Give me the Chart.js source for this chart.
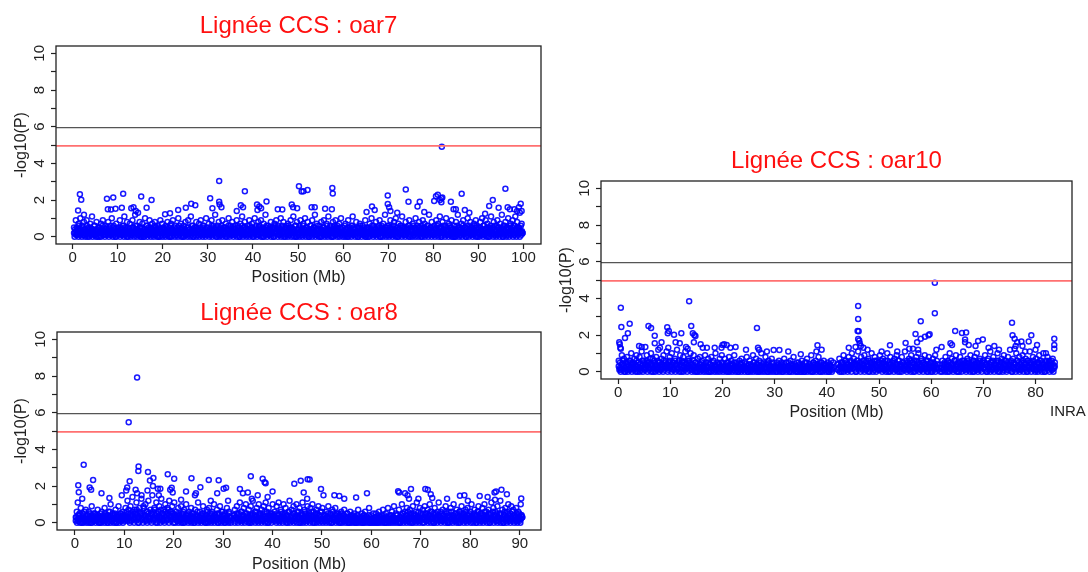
<!DOCTYPE html>
<html>
<head>
<meta charset="utf-8">
<script src="https://cdn.jsdelivr.net/npm/chart.js@4.4.1/dist/chart.umd.min.js"></script>
<style>
  body { margin: 0; background: #fff; width: 1088px; height: 572px; overflow: hidden; position: relative; }
  .panel { position: absolute; }
  #inra { position: absolute; left: 1050px; top: 402px; font: 15px "Liberation Sans", Arial, sans-serif; color: #222; }
</style>
</head>
<body>
<div class="panel" style="left:0;top:0;width:560px;height:290px"><canvas id="oar7"></canvas></div>
<div class="panel" style="left:0;top:290px;width:560px;height:290px"><canvas id="oar8"></canvas></div>
<div class="panel" style="left:545px;top:135px;width:543px;height:290px"><canvas id="oar10"></canvas></div>
<div id="inra">INRA</div>
<script>
// thresholds (-log10 P)
const lineBlack = 5.95
const lineRed = 4.95
const yTicks = [0, 1, 2, 3, 4, 5, 6, 7, 8, 9, 10]

// ---- oar7 ----
const oar7Ticks = [0, 10, 20, 30, 40, 50, 60, 70, 80, 90, 100]
const oar7Range = [0.3, 99.8]   // first / last marker (Mb)
// background markers, evenly spread along the chromosome
const oar7Band = [
  0.5,0.2,0.9,0.1,0.4,0.7,0.3,1.0,0.2,0.6, 0.1,0.8,0.4,0.3,0.9,0.0,0.5,0.2,0.7,0.3, 1.1,0.4,0.1,0.6,0.3,0.8,0.2,0.5,0.0,0.4, 0.7,0.2,0.9,0.3,0.1,0.6,0.4,0.2,0.8,0.5, 0.1,0.3,1.0,0.2,0.6,0.4,0.0,0.7,0.3,0.5,
  0.2,0.9,0.4,0.1,0.6,0.3,1.1,0.5,0.2,0.8, 0.0,0.4,0.7,0.3,0.1,0.9,0.5,0.2,1.2,0.4, 0.6,0.1,0.3,0.8,0.5,0.2,0.7,0.0,0.4,1.0, 0.3,0.6,0.1,0.5,0.9,0.2,0.4,0.7,0.3,0.1, 0.8,0.5,0.2,0.6,0.0,0.4,0.9,0.3,0.7,0.2,
  0.4,0.1,0.6,0.3,0.8,0.2,0.5,0.0,0.7,0.4, 0.9,0.2,0.3,0.6,0.1,0.5,1.0,0.3,0.2,0.7, 0.4,0.0,0.6,0.3,0.8,0.1,0.5,0.9,0.2,0.4, 1.1,0.3,0.6,0.0,0.5,0.2,0.8,0.4,0.1,0.7, 0.3,0.9,0.2,0.5,0.6,0.1,0.4,1.0,0.3,0.2,
  0.7,0.3,0.1,0.9,0.4,0.6,0.2,1.2,0.5,0.0, 0.3,0.8,0.4,0.1,0.6,0.9,0.2,0.5,0.3,0.7, 0.0,0.4,1.0,0.2,0.6,0.3,0.8,0.1,0.5,0.4, 0.2,0.9,0.6,0.3,0.0,0.7,0.4,1.1,0.2,0.5, 0.8,0.1,0.3,0.6,0.4,0.9,0.2,0.5,0.7,0.1,
  0.4,1.0,0.3,0.6,0.1,0.8,0.5,0.2,0.9,0.4, 0.0,0.7,0.3,1.2,0.5,0.2,0.6,0.1,0.4,0.8, 0.3,0.5,0.0,0.7,0.2,0.9,0.4,0.6,0.1,0.3, 1.0,0.5,0.2,0.8,0.4,0.0,0.6,0.3,0.7,0.1, 0.5,0.9,0.2,0.4,1.1,0.3,0.6,0.0,0.8,0.4,
  0.2,0.6,0.9,0.3,0.1,0.7,0.4,1.0,0.5,0.2, 0.8,0.0,0.3,0.6,0.4,0.9,0.2,0.5,1.2,0.1, 0.7,0.3,0.4,0.6,0.0,0.8,0.2,0.5,0.9,0.3, 0.1,0.7,0.4,1.1,0.2,0.6,0.3,0.0,0.8,0.5, 0.4,0.9,0.1,0.6,0.3,0.7,0.2,1.0,0.4,0.5,
  0.3,0.1,0.7,0.4,0.0,0.9,0.2,0.5,0.3,0.6, 1.1,0.1,0.4,0.2,0.8,0.3,0.0,0.5,0.7,0.2, 0.4,0.6,0.1,0.3,0.9,0.2,0.5,0.0,0.4,0.7, 0.3,1.0,0.2,0.6,0.1,0.4,0.8,0.3,0.5,0.2, 0.9,0.0,0.6,0.3,0.7,0.4,1.2,0.2,0.5,0.1,
  0.6,0.3,0.9,0.1,0.5,0.4,0.8,0.2,1.0,0.3, 0.0,0.7,0.4,0.6,0.2,1.1,0.3,0.5,0.1,0.8, 0.4,0.2,0.6,0.9,0.0,0.5,0.3,0.7,0.1,0.4, 1.0,0.2,0.6,0.3,0.8,0.5,0.0,0.4,0.9,0.2, 0.7,0.3,0.1,0.6,0.4,1.2,0.2,0.5,0.8,0.3,
  0.1,0.6,0.4,0.9,0.2,0.7,0.3,1.1,0.5,0.0, 0.8,0.4,0.2,0.6,1.0,0.3,0.1,0.7,0.5,0.2, 0.9,0.4,0.0,0.6,0.3,0.8,0.2,1.2,0.5,0.1, 0.4,0.7,0.3,0.9,0.2,0.5,0.0,0.6,1.0,0.3, 0.4,0.8,0.1,0.5,0.2,0.7,0.3,0.9,0.6,0.0,
  0.5,0.2,0.8,0.3,1.0,0.1,0.6,0.4,0.9,0.2, 0.7,0.0,0.5,0.3,1.1,0.4,0.2,0.8,0.6,0.1, 0.3,0.9,0.5,0.2,0.7,0.4,1.2,0.0,0.6,0.3, 0.8,0.1,0.5,1.0,0.4,0.2,0.7,0.3,0.9,0.6, 0.1,1.1,0.4,0.8,0.2,0.5,1.3,0.3,0.7,0.2
]
// dense low-level markers, in tenths of -log10(P)
const oar7Core = [
  2,0,4,1,3,5,1,2,0,6,3,1,4,2,0,3,5,1,2,4,0,3,1,6,2,4,1,0,3,5,2,1,4,0,3,2,6,1,3,0,
  1,4,0,3,2,5,1,3,0,2,4,6,1,2,3,0,4,1,5,2,3,1,0,4,2,6,3,1,2,0,5,3,1,4,2,0,3,1,4,2,
  3,1,0,5,2,4,1,3,6,0,2,1,4,3,0,2,5,1,3,4,2,0,1,3,5,2,4,0,1,6,3,2,0,4,1,3,2,5,0,1,
  0,2,5,1,3,0,4,2,1,6,3,0,2,4,1,3,5,0,2,1,4,3,0,2,6,1,3,4,0,2,1,5,3,0,4,2,1,3,0,5,
  4,1,3,0,2,5,1,4,3,0,2,1,6,3,0,4,2,1,3,5,0,2,4,1,3,0,2,6,1,4,3,0,5,2,1,3,0,4,2,1,
  2,3,0,1,5,2,4,0,3,1,6,2,0,4,3,1,2,5,0,3,1,4,2,0,3,5,1,2,4,0,6,1,3,2,0,4,1,5,3,2,
  1,0,3,4,2,6,0,1,3,5,2,4,1,0,2,3,6,1,4,0,2,5,3,1,0,4,2,3,1,5,0,2,4,1,3,6,2,0,1,4,
  5,2,1,3,0,4,2,6,1,3,0,2,5,4,1,0,3,2,4,1,6,0,3,2,1,5,4,0,2,3,1,4,0,6,2,1,3,5,0,2,
  0,3,2,5,1,4,0,2,3,1,6,4,2,0,1,3,5,2,0,4,3,1,2,6,0,1,4,3,2,5,1,0,3,4,2,1,0,5,3,6,
  3,2,4,0,1,5,3,1,2,0,4,6,3,1,0,2,4,5,1,3,2,0,6,1,4,2,3,0,5,1,2,4,0,3,1,6,2,0,4,1,
  1,5,0,2,4,3,1,0,6,2,3,4,1,0,2,5,3,1,4,0,2,3,6,1,0,4,2,5,3,1,0,2,4,1,6,3,0,2,1,4,
  4,0,2,3,1,5,2,0,4,1,3,6,0,2,1,4,3,5,0,1,2,4,0,3,6,1,2,5,4,0,1,3,2,0,5,4,1,2,3,0,
  2,1,6,0,3,4,1,2,5,0,3,1,4,2,0,6,3,1,5,2,4,0,1,3,2,5,0,4,1,3,6,2,0,1,4,3,2,5,1,0,
  0,4,1,3,5,2,0,3,1,4,2,6,1,0,3,2,5,4,1,0,3,2,1,6,4,0,2,3,5,1,0,4,2,3,1,5,0,2,6,1,
  3,0,2,5,1,4,2,0,3,6,1,2,4,0,3,1,5,2,0,4,1,3,2,6,0,5,1,3,4,2,0,1,3,5,2,4,0,6,1,3,
  1,3,4,0,2,6,1,5,0,3,2,4,1,0,5,3,2,1,4,6,0,2,3,1,5,0,4,2,1,3,6,0,2,4,1,5,3,0,2,1,
  2,5,1,0,4,3,2,6,1,0,3,5,2,4,0,1,3,2,6,4,1,0,5,3,2,1,4,0,3,6,2,1,5,0,4,3,1,2,0,4,
  0,1,3,6,2,4,0,5,3,1,2,0,4,6,1,3,2,5,0,4,1,3,2,0,6,4,1,5,2,3,0,1,4,2,6,3,0,5,1,2,
  4,2,0,1,5,3,1,4,2,0,6,3,1,2,4,0,5,1,3,2,0,4,6,1,3,2,5,0,1,4,3,2,0,6,1,5,2,4,0,3,
  1,3,5,2,0,4,1,6,3,2,0,5,4,1,3,0,2,6,1,4,3,5,0,2,1,6,4,3,0,2,5,1,3,4,0,2,6,1,3,2
]
// markers standing out of the band
const oar7PeakPos = [1.6,1.9,1.2,2.5,7.6,9.0,7.8,8.5,9.5,11.2,10.9,13.0,13.5,14.0,14.5,15.2,16.4,17.5,20.5,21.6,23.4,25.1,26.3,27.2,30.5,31.0,32.5,32.5,32.6,33.0,36.4,37.3,37.8,38.2,40.9,41.4,41.8,41.0,43.0,45.5,46.5,48.6,48.9,49.8,50.2,50.8,51.2,52.1,53.0,53.7,56.0,57.5,57.6,57.7,66.4,67.0,65.2,69.9,69.9,70.2,70.5,72.0,73.9,74.5,76.5,77.0,78.0,80.2,80.6,81.0,81.5,81.8,82.0,81.8,81.9,83.9,84.5,85.0,86.3,87.0,88.0,91.5,92.4,93.2,94.5,96.0,96.5,97.0,98.0,98.6,99.0,99.4,99.6]
const oar7PeakVal = [2.32,2.02,1.43,1.2,2.07,2.14,1.5,1.48,1.52,2.34,1.58,1.55,1.6,1.4,1.3,2.19,1.58,2.0,1.22,1.28,1.45,1.58,1.8,1.72,2.1,1.55,3.04,1.9,1.75,1.6,1.4,1.72,1.6,2.48,1.75,1.65,1.55,1.45,1.92,1.5,1.48,1.75,1.6,1.55,2.75,2.46,2.48,2.54,1.6,1.6,1.52,1.5,2.66,2.35,1.65,1.45,1.35,2.25,1.78,1.6,1.4,1.3,2.57,1.9,1.65,1.9,1.35,1.95,2.2,2.28,2.0,2.1,2.14,1.88,4.91,1.9,1.5,1.5,2.34,1.45,1.3,1.25,1.67,2.0,1.58,2.61,1.6,1.5,1.5,1.4,1.6,1.8,1.4]

// ---- oar8 ----
const oar8Ticks = [0, 10, 20, 30, 40, 50, 60, 70, 80, 90]
const oar8Range = [0.2, 90.5]
const oar8Band = [
  0.3,0.6,0.1,0.4,0.2,0.8,0.0,0.5,0.3,0.2, 0.7,0.1,0.4,0.6,0.2,0.0,0.9,0.3,0.5,0.1, 0.4,0.2,0.7,0.3,0.0,0.5,0.6,0.1,0.3,0.8, 0.2,0.4,0.0,0.6,0.3,1.0,0.1,0.5,0.2,0.4, 0.7,0.0,0.3,0.9,0.2,0.5,0.1,0.6,0.4,0.3,
  0.8,0.3,1.2,0.5,0.1,0.9,0.4,1.4,0.2,0.7, 0.6,1.1,0.3,0.0,0.8,0.5,1.3,0.2,0.9,0.4, 1.0,0.1,0.6,1.2,0.3,0.7,0.5,1.5,0.2,0.8, 0.4,1.1,0.0,0.6,0.9,0.3,1.3,0.5,0.1,0.7, 1.0,0.4,0.8,0.2,1.2,0.6,0.3,0.9,0.5,1.1,
  0.3,0.6,0.1,0.8,0.4,0.2,0.9,0.5,0.0,0.7, 0.3,1.0,0.2,0.4,0.6,0.1,0.8,0.3,0.5,0.0, 0.7,0.2,0.4,1.1,0.3,0.6,0.1,0.5,0.9,0.2, 0.4,0.0,0.7,0.3,0.8,0.5,0.1,0.6,0.2,1.0, 0.4,0.3,0.7,0.0,0.5,0.9,0.2,0.6,0.1,0.4,
  0.5,0.2,0.8,0.1,0.6,0.3,0.0,null,null,0.4, 0.7,0.3,0.9,0.2,0.5,1.1,0.1,0.6,0.4,0.8, 0.2,1.0,0.5,0.3,0.7,0.0,0.9,0.4,1.2,0.2, 0.6,0.3,0.8,0.1,1.0,0.5,0.4,0.7,0.2,0.9, 0.3,1.1,0.6,0.0,0.8,0.4,0.5,0.2,1.0,0.3,
  0.6,0.2,0.9,0.4,1.1,0.1,0.7,0.3,0.5,1.0, 0.2,0.8,0.4,0.0,0.6,1.2,0.3,0.7,0.1,0.9, 0.5,0.3,1.0,0.2,0.6,0.8,0.0,0.4,1.1,0.3, 0.7,0.5,0.1,0.9,0.4,0.2,0.8,0.6,1.0,0.3, 0.0,0.5,0.7,0.2,0.9,0.4,0.6,0.1,0.8,0.3,
  0.4,0.1,0.6,0.3,0.9,0.2,0.5,0.0,0.7,0.3, 0.2,0.8,0.4,0.1,0.5,0.3,0.0,0.6,0.2,0.4, 0.7,0.1,0.3,0.5,0.0,0.2,0.6,0.4,0.1,0.3, 0.5,0.2,0.0,0.4,0.7,0.1,0.3,0.2,0.5,0.0, 0.4,0.6,0.1,0.3,0.2,0.8,0.0,0.4,0.2,0.5,
  0.1,0.3,0.5,0.0,0.2,0.6,0.3,0.1,0.4,0.7, 0.2,0.0,0.5,0.3,0.8,0.1,0.4,0.2,0.6,0.3, 0.9,0.1,0.5,0.4,0.2,0.7,0.0,0.3,1.0,0.5, 0.2,0.6,0.4,0.8,0.1,0.3,0.7,0.5,0.0,0.9, 0.4,0.2,0.6,1.1,0.3,0.1,0.8,0.5,0.2,0.7,
  0.3,0.9,0.5,0.1,0.7,0.4,1.0,0.2,0.6,0.3, 0.0,0.8,0.5,0.2,0.4,1.1,0.3,0.6,0.1,0.7, 0.4,0.2,0.9,0.5,0.0,0.6,0.3,0.8,0.2,0.4, 1.0,0.1,0.5,0.7,0.3,0.0,0.6,0.4,0.9,0.2, 0.5,0.3,0.7,0.1,0.8,0.4,0.2,0.6,1.0,0.3,
  0.2,0.7,0.4,0.0,0.6,0.9,0.3,0.5,0.1,0.8, 0.4,1.0,0.2,0.6,0.3,0.7,0.0,0.5,1.1,0.2, 0.8,0.4,0.6,0.1,0.9,0.3,0.5,1.2,0.2,0.7, 0.0,0.4,0.8,0.3,0.6,1.0,0.1,0.5,0.9,0.2, 0.7,0.4,0.3,0.8,0.1,0.6,0.5,0.2,0.4,0.3
]
const oar8Core = [
  1,3,0,2,4,1,5,0,2,3,1,4,0,2,6,1,3,0,2,4,1,0,3,5,2,1,0,4,2,3,1,5,0,2,1,3,4,0,2,1,
  3,0,2,1,4,2,0,5,1,3,2,0,4,1,3,6,0,2,1,4,3,0,2,5,1,0,3,2,4,1,0,2,3,5,1,4,0,2,3,1,
  4,2,6,1,3,7,2,0,5,3,1,4,6,2,0,3,5,1,7,4,2,0,3,6,1,4,2,5,0,3,8,1,4,2,6,0,3,5,2,1,
  2,5,0,4,6,1,3,7,2,0,5,3,1,6,4,2,0,7,3,1,5,2,4,0,6,3,1,5,2,7,0,4,3,1,6,2,5,0,3,4,
  0,2,4,1,3,0,5,2,1,3,0,4,2,6,1,0,3,2,4,1,5,0,2,3,1,4,0,2,5,3,1,0,4,2,1,3,6,0,2,1,
  3,1,0,4,2,5,1,3,0,2,4,1,6,0,3,2,1,4,0,5,2,3,1,0,4,2,1,3,5,0,2,4,1,3,0,2,6,1,4,0,
  2,0,3,1,4,2,0,5,1,3,null,null,null,null,2,4,0,1,3,5,2,0,4,1,3,2,6,0,1,4,3,2,0,5,1,3,2,4,0,1,
  1,4,2,0,3,5,1,2,4,0,6,3,1,2,0,4,3,5,1,0,2,4,1,3,6,0,2,1,5,3,0,4,2,1,3,0,5,2,4,1,
  4,1,3,0,5,2,1,4,0,3,2,6,1,0,4,3,2,5,1,0,3,4,2,1,6,0,3,2,4,1,5,0,2,3,1,4,0,6,2,3,
  0,3,1,5,2,4,0,1,3,6,2,0,4,1,3,2,5,0,1,4,2,3,0,6,1,2,4,3,0,5,1,2,4,0,3,1,6,2,0,4,
  2,1,4,0,3,1,5,2,0,3,1,4,2,0,6,3,1,2,4,0,5,1,3,2,0,4,1,3,5,0,2,1,4,3,0,2,1,5,3,0,
  1,0,2,3,0,1,4,2,0,1,3,0,2,1,4,0,3,1,2,0,1,3,0,2,4,1,0,3,2,1,0,2,4,1,0,3,1,2,0,1,
  0,2,1,0,3,1,2,0,4,1,0,2,3,1,0,2,1,4,0,3,2,0,1,2,0,3,1,0,4,2,1,0,3,1,2,0,1,4,2,0,
  2,1,3,0,4,2,1,5,0,3,2,1,4,0,2,6,1,3,0,2,4,1,3,0,5,2,1,4,0,3,2,1,6,0,3,4,1,2,0,5,
  3,0,2,4,1,5,3,0,2,1,4,6,0,3,2,1,5,0,4,2,3,1,0,6,2,4,1,3,0,5,2,1,4,3,0,2,6,1,3,0,
  1,4,0,3,2,6,1,0,4,2,3,5,1,0,2,4,3,1,6,0,2,5,1,3,4,0,2,1,3,6,0,4,2,1,5,3,0,2,4,1,
  0,2,5,1,3,0,4,2,6,1,3,0,2,5,4,1,0,3,2,6,1,4,0,3,2,5,1,0,4,3,2,1,6,0,3,2,4,1,5,0,
  3,1,2,4,0,5,2,1,3,0,4,6,2,1,0,3,5,2,4,1,0,3,2,6,1,4,0,2,3,1,5,0,4,2,3,1,0,2,4,3
]
const oar8PeakPos = [0.6,0.7,0.8,1.5,1.8,3.0,3.3,3.7,5.4,7.0,9.5,10.4,10.6,10.9,11.1,12.3,12.6,12.6,12.9,12.85,13.5,14.7,14.8,15.2,15.9,15.8,16.8,17.3,17.0,18.8,19.3,19.6,20.1,19.8,21.5,22.5,23.6,24.5,24.3,25.4,27.1,27.5,29.1,28.8,30.1,30.6,31.0,33.4,34.0,35.0,35.6,35.8,38.0,38.4,38.6,37.0,40.0,39.0,44.4,45.7,46.3,47.1,47.5,47.0,49.8,50.3,52.5,53.5,54.5,56.9,59.1,65.4,65.6,66.8,67.3,67.6,68.0,69.5,70.9,71.4,72.0,72.3,75.3,77.9,78.8,79.5,81.9,83.5,84.9,85.2,86.3,85.0,87.4,90.3,90.2]
const oar8PeakVal = [1.1,2.04,1.66,1.3,3.16,1.92,1.8,2.33,1.6,1.35,1.5,1.75,1.92,5.48,2.26,1.8,1.6,7.92,3.07,2.82,1.5,1.75,2.77,2.3,2.44,2.0,1.85,1.85,1.5,2.64,1.8,1.9,2.4,1.65,1.25,1.7,2.42,1.6,1.5,1.93,2.33,1.2,2.31,1.6,1.85,1.9,1.2,1.84,1.6,1.65,2.53,1.3,2.4,2.2,2.15,1.5,1.7,1.4,2.12,2.28,1.65,2.37,2.35,1.3,1.83,1.5,1.5,1.45,1.3,1.37,1.61,1.72,1.65,1.6,1.5,1.3,1.83,1.3,1.83,1.8,1.55,1.35,1.3,1.47,1.5,1.2,1.46,1.4,1.65,1.7,1.8,1.25,1.55,1.32,1.0]

// ---- oar10 ----
const oar10Ticks = [0, 10, 20, 30, 40, 50, 60, 70, 80]
const oar10Range = [0.1, 83.7]
const oar10Band = [
  0.6,0.2,0.1,0.9,0.4,0.7,0.0,0.3,0.8,0.5, 0.1,0.6,1.0,0.2,0.4,0.7,0.3,0.9,0.0,0.5, 0.8,0.2,1.1,0.4,0.6,0.1,0.3,0.9,0.5,0.2, 0.7,1.0,0.4,0.0,0.6,0.3,0.8,0.2,1.2,0.5, 0.1,0.7,0.4,0.9,0.3,0.6,1.1,0.2,0.5,0.8,
  0.3,1.0,0.5,0.1,0.7,0.4,1.2,0.2,0.6,0.9, 0.0,0.5,0.8,0.3,1.1,0.4,0.2,0.7,0.6,1.0, 0.1,0.4,0.9,0.3,0.5,0.0,0.7,0.2,0.8,0.4, 0.6,0.1,0.3,0.9,0.5,0.2,0.7,0.0,0.4,0.8, 0.2,0.6,0.3,1.0,0.1,0.5,0.4,0.7,0.2,0.9,
  0.4,0.1,0.7,0.3,0.5,0.0,0.8,0.2,0.6,0.4, 0.1,0.9,0.3,0.5,0.2,0.0,0.6,0.4,0.7,0.1, 0.3,0.5,0.2,0.8,0.0,0.4,0.6,0.1,0.3,0.9, 0.5,0.2,0.7,0.4,0.0,0.6,0.3,1.0,0.1,0.5, 0.2,0.8,0.4,0.0,0.6,0.3,0.1,0.7,0.5,0.2,
  0.3,0.0,0.5,0.2,0.6,0.1,0.4,0.0,0.3,0.7, 0.2,0.5,0.1,0.3,0.0,0.6,0.4,0.2,0.8,0.1, 0.3,0.5,0.0,0.2,0.4,0.1,0.6,0.3,0.0,0.5, 0.2,0.7,0.1,0.4,0.3,0.9,0.0,0.5,0.2,0.6, 0.4,0.1,0.8,0.3,0.0,0.5,0.2,0.6,0.1,0.4,
  0.2,0.5,0.0,0.3,0.6,0.1,null,null,null,null, 0.4,0.1,0.7,0.3,0.0,0.5,0.9,0.2,0.6,0.4, 0.1,0.8,0.3,0.5,1.0,0.2,0.7,0.4,0.0,0.6, 1.1,0.3,0.5,0.8,0.2,0.4,0.9,0.1,0.6,0.3, 0.7,0.0,0.5,1.0,0.2,0.4,0.8,0.3,0.6,0.1,
  0.5,0.9,0.2,0.4,0.7,0.1,0.6,0.3,1.0,0.0, 0.4,0.8,0.2,0.5,0.3,0.7,0.1,0.9,0.4,0.6, 0.0,0.3,0.8,0.5,0.2,1.1,0.4,0.6,0.1,0.7, 0.3,0.9,0.5,0.0,0.6,0.2,0.8,0.4,1.0,0.3, 0.1,0.7,0.5,0.2,0.9,0.4,0.6,0.0,0.8,0.3,
  0.5,0.1,0.7,0.3,0.9,0.2,0.4,null,null,0.0, 0.2,0.6,0.1,0.4,0.8,0.3,0.0,0.5,1.0,0.2, 0.7,0.4,0.1,0.6,0.9,0.3,0.5,0.0,0.8,0.2, 0.4,1.1,0.6,0.1,0.3,0.7,0.5,0.2,0.9,0.4, 0.0,0.6,0.8,0.3,1.0,0.1,0.5,0.7,0.2,0.4,
  0.6,0.2,0.9,0.4,0.0,0.7,0.3,1.1,0.5,0.1, 0.8,0.4,0.2,0.6,1.0,0.3,0.0,0.5,0.7,0.2, 0.9,0.4,0.6,0.1,0.8,0.3,1.2,0.5,0.0,0.7, 0.2,0.4,1.0,0.6,0.3,0.8,0.1,0.5,0.9,0.2, 0.4,0.7,0.0,0.6,0.3,1.1,0.5,0.2,0.8,0.4,
  0.3,0.7,0.1,0.5,0.9,0.2,0.6,0.4,1.0,0.0, 0.5,0.3,0.8,0.2,0.6,0.4,0.1,0.7,0.3,0.5
]
const oar10Core = [
  3,1,5,0,2,4,6,1,3,0,2,5,1,4,0,3,6,2,1,4,0,5,3,1,2,4,0,6,3,1,5,2,0,4,1,3,6,0,2,5,
  1,4,2,6,0,3,1,5,2,4,0,3,7,1,2,5,0,4,3,1,6,2,0,5,3,1,4,2,0,6,1,3,5,2,4,0,1,3,6,2,
  4,0,3,1,5,2,6,0,3,4,1,2,5,0,4,3,1,6,2,0,3,5,1,4,2,0,6,3,1,5,2,4,0,1,3,6,2,0,5,1,
  2,0,3,1,4,0,2,5,1,3,0,2,4,1,0,3,2,5,0,1,4,2,0,3,1,5,2,0,4,1,3,0,2,1,4,0,3,2,5,1,
  0,3,1,2,4,0,1,3,5,2,0,1,4,3,0,2,1,5,3,0,2,4,1,0,3,2,1,4,0,5,2,1,3,0,2,4,1,3,0,2,
  1,2,0,4,3,1,0,5,2,3,1,0,4,2,1,3,0,2,5,1,0,3,4,2,0,1,3,2,5,0,4,1,2,0,3,1,4,0,2,3,
  2,1,3,0,2,4,1,0,3,2,5,1,0,2,4,3,1,0,2,1,3,5,0,2,4,1,0,3,2,1,4,0,3,2,0,1,5,2,3,0,
  0,2,4,1,3,0,2,1,5,0,3,2,1,4,0,2,3,1,0,5,2,4,1,0,3,2,1,4,0,2,5,3,1,0,2,4,1,3,0,2,
  3,1,0,2,4,1,3,0,2,5,null,null,null,null,null,null,1,4,2,0,3,5,1,2,4,0,3,6,1,2,5,0,4,3,1,2,6,0,3,4,
  2,5,1,3,0,4,6,2,1,3,5,0,2,4,1,6,3,0,2,5,1,4,3,0,6,2,1,4,3,5,0,2,1,6,4,0,3,2,5,1,
  4,1,3,6,0,2,5,1,3,4,0,2,6,1,3,5,0,4,2,1,3,6,0,2,5,4,1,3,0,2,6,1,4,3,0,5,2,1,4,3,
  1,3,0,5,2,4,1,6,0,3,2,5,1,4,0,2,6,3,1,5,2,0,4,3,1,6,2,0,5,4,1,3,2,0,6,1,4,2,5,0,
  3,0,2,5,1,4,0,3,6,2,1,null,null,null,null,2,0,4,1,3,5,0,2,4,1,6,3,0,2,5,1,4,3,0,2,6,1,3,4,0,
  0,4,2,1,5,3,0,6,2,4,1,3,5,0,2,6,1,4,3,0,2,5,1,3,6,0,4,2,1,5,3,0,2,4,6,1,3,0,5,2,
  2,5,1,4,0,3,6,1,2,4,0,5,3,1,6,2,0,4,3,1,5,2,0,6,4,1,3,2,5,0,1,4,6,2,3,0,5,1,4,2,
  4,1,6,0,3,2,5,1,4,0,2,6,3,1,5,0,4,2,1,3,6,0,5,2,4,1,3,0,6,2,1,5,4,0,3,2,6,1,4,0,
  1,3,5,0,4,2,6,1,3,0,5,2,4,1,0,3,6,2,4,1,5,0,3,2,6,1,4,0,2,3
]
const oar10PeakPos = [0.2,0.3,0.4,0.5,0.5,0.6,1.3,1.85,2.2,4.0,4.5,5.2,5.8,6.3,7.0,7.0,8.3,8.0,9.4,9.7,9.5,9.6,10.7,11.0,11.8,12.1,13.0,13.3,13.6,14.0,14.3,14.6,14.8,14.5,15.8,16.2,17.0,18.5,20.0,20.3,20.8,19.8,21.5,22.5,24.5,26.6,26.8,27.0,28.5,29.8,30.9,32.6,35.0,38.2,38.0,39.0,44.2,45.5,46.0,46.0,45.9,46.1,46.0,46.2,46.3,46.5,47.0,47.8,50.5,52.1,53.5,55.1,55.8,56.5,57.0,57.3,57.5,58.0,58.0,58.8,59.5,59.7,60.7,60.7,61.0,62.0,63.7,64.0,64.6,65.9,66.5,66.5,66.7,67.2,68.5,69.0,69.9,71.0,72.1,73.0,75.5,75.6,76.0,76.5,76.2,76.0,77.3,77.5,78.0,78.7,79.2,80.3,80.0,82.0,83.6,83.6,83.6]
const oar10PeakVal = [1.6,1.5,1.3,1.25,3.49,2.44,1.84,2.09,2.62,1.4,1.35,1.35,2.49,2.38,1.96,1.55,1.6,1.3,2.42,2.22,2.1,1.3,2.02,1.6,1.55,2.09,1.35,1.25,3.84,2.49,2.1,2.0,1.95,1.6,1.5,1.3,1.3,1.3,1.45,1.5,1.45,1.3,1.3,1.35,1.2,2.38,1.3,1.2,1.1,1.18,1.18,1.1,0.95,1.44,1.1,1.2,1.31,1.35,3.58,2.87,2.22,2.2,1.78,1.7,1.55,1.4,1.3,1.2,1.1,1.44,1.1,1.56,1.25,1.25,2.05,1.6,1.2,2.75,1.8,1.91,1.98,2.04,4.85,3.18,1.2,1.35,1.55,1.45,2.22,2.11,1.75,1.6,2.13,1.45,1.4,1.67,1.75,1.3,1.4,1.2,2.67,1.98,1.8,1.6,1.4,1.25,1.65,1.4,1.1,1.65,1.98,1.45,1.2,1.0,1.8,1.45,1.25]

Chart.defaults.font.family = '"Liberation Sans", Arial, sans-serif'
Chart.defaults.color = '#222'

// frame round the plotting region, like R's box()
const boxPlugin = {
  id: 'box',
  afterDraw(chart) {
    const a = chart.chartArea
    const c = chart.ctx
    c.save()
    c.strokeStyle = '#222'
    c.lineWidth = 1.3
    c.strokeRect(a.left, a.top, a.right - a.left, a.bottom - a.top)
    c.restore()
  }
}

// spread a list of values evenly between the first and last marker
function spread(values, range, scale) {
  const step = (range[1] - range[0]) / (values.length - 1)
  const pts = []
  values.forEach((v, i) => { if (v !== null) pts.push({ x: range[0] + i * step, y: v * scale }) })
  return pts
}

function markers(band, core, range, peakPos, peakVal) {
  const pts = spread(core, range, 0.1).concat(spread(band, range, 1))
  peakPos.forEach((p, i) => pts.push({ x: p, y: peakVal[i] }))
  return pts
}

function manhattan(id, title, pts, xTicks, xMin, xMax, lay) {
  return new Chart(document.getElementById(id), {
    type: 'scatter',
    data: {
      datasets: [
        {
          data: [{ x: xMin, y: lineBlack }, { x: xMax, y: lineBlack }],
          type: 'line', borderColor: '#555', borderWidth: 1.4, pointRadius: 0, order: 0
        },
        {
          data: [{ x: xMin, y: lineRed }, { x: xMax, y: lineRed }],
          type: 'line', borderColor: '#ff7070', borderWidth: 1.8, pointRadius: 0, order: 0
        },
        {
          data: pts,
          pointStyle: 'circle', pointRadius: 2.5, borderWidth: 1.5,
          borderColor: 'rgba(0,0,255,0.9)', backgroundColor: 'rgba(0,0,0,0)', order: 1
        }
      ]
    },
    options: {
      responsive: true,
      maintainAspectRatio: false,
      animation: false,
      events: [],
      layout: { padding: lay.pad },
      plugins: {
        legend: { display: false },
        tooltip: { enabled: false },
        title: {
          display: true, text: title, color: '#ff1010', fullSize: false,
          font: { size: 24, weight: 'normal' }, padding: { top: 0, bottom: lay.titleGap }
        }
      },
      scales: {
        x: {
          type: 'linear', min: xMin, max: xMax,
          afterBuildTicks: s => { s.ticks = xTicks.map(v => ({ value: v })) },
          afterFit: s => { s.height = lay.xh },
          ticks: { font: { size: 15 }, padding: 0, maxRotation: 0, autoSkip: false },
          grid: { drawOnChartArea: false, drawTicks: true, tickLength: 5, tickColor: '#222', tickWidth: 1.2 },
          border: { display: false },
          title: { display: true, text: 'Position (Mb)', font: { size: 16 }, padding: { top: 0, bottom: 0 } }
        },
        y: {
          min: -0.4, max: 10.4,
          afterBuildTicks: s => { s.ticks = yTicks.map(v => ({ value: v })) },
          afterFit: s => { s.width = lay.yw },
          ticks: {
            font: { size: 15 }, padding: 2.5, autoSkip: false,
            minRotation: 90, maxRotation: 90, crossAlign: 'center',
            callback: v => (v % 2 === 0 ? String(v) : '')
          },
          grid: { drawOnChartArea: false, drawTicks: true, tickLength: 5, tickColor: '#222', tickWidth: 1.2 },
          border: { display: false },
          title: { display: true, text: '-log10(P)', font: { size: 16 }, padding: { top: 12, bottom: 0 } }
        }
      }
    },
    plugins: [boxPlugin]
  })
}

manhattan('oar7', 'Lignée CCS : oar7', markers(oar7Band, oar7Core, oar7Range, oar7PeakPos, oar7PeakVal), oar7Ticks, -3.7, 103.9,
  { pad: { left: 0, right: 19, top: 12.1, bottom: 2.4 }, titleGap: 5.1, xh: 43.6, yw: 56 })

manhattan('oar8', 'Lignée CCS : oar8', markers(oar8Band, oar8Core, oar8Range, oar8PeakPos, oar8PeakVal), oar8Ticks, -3.6, 94.3,
  { pad: { left: 0, right: 19, top: 8.6, bottom: 5.9 }, titleGap: 4.6, xh: 44.1, yw: 57 })

manhattan('oar10', 'Lignée CCS : oar10', markers(oar10Band, oar10Core, oar10Range, oar10PeakPos, oar10PeakVal), oar10Ticks, -3.3, 87.0,
  { pad: { left: 0, right: 16, top: 12.1, bottom: 2.4 }, titleGap: 5.1, xh: 43.6, yw: 56 })
</script>
</body>
</html>
